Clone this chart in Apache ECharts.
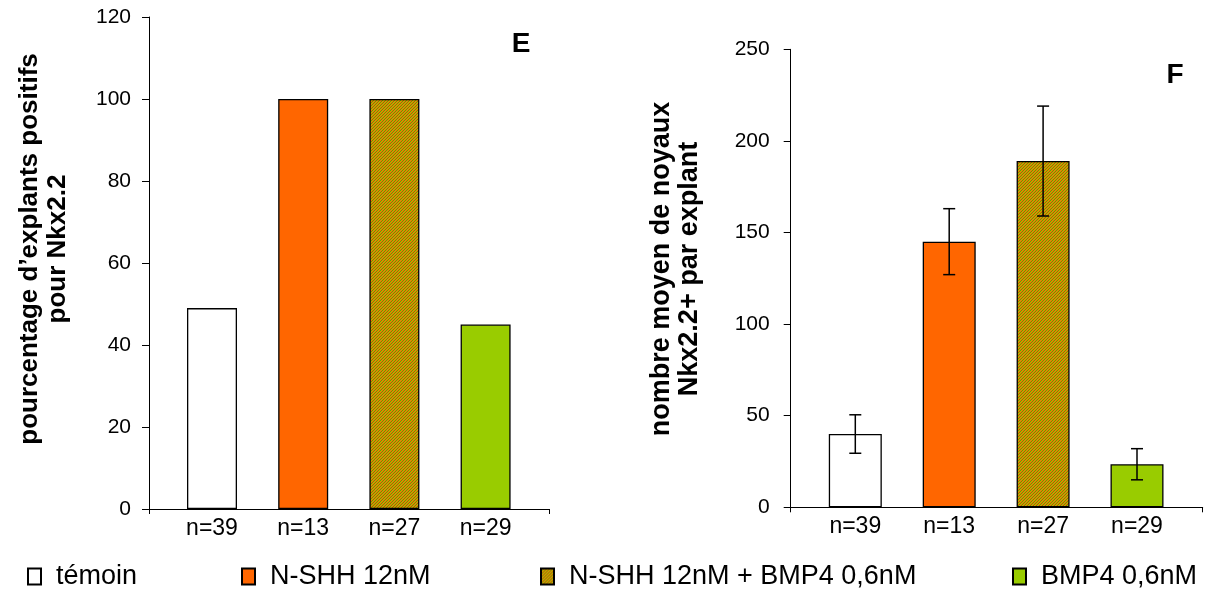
<!DOCTYPE html>
<html>
<head>
<meta charset="utf-8">
<script src="https://cdn.jsdelivr.net/npm/echarts@6/dist/echarts.min.js"></script>
<style>html,body{margin:0;padding:0;background:#fff;}#c{width:1210px;height:592px;}</style>
</head>
<body>
<div id="c"></div>
<script>
// ---- data ----
const categories = ['n=39', 'n=13', 'n=27', 'n=29'];
const seriesNames = ['témoin', 'N-SHH 12nM', 'N-SHH 12nM + BMP4 0,6nM', 'BMP4 0,6nM'];
const pctPositive = [49, 100, 100, 45];
const meanNuclei = [40, 145, 189, 23.5];
const meanNucleiErr = [10.5, 18, 30, 8.5];
const yTicksE = [0, 20, 40, 60, 80, 100, 120];
const yTicksF = [0, 50, 100, 150, 200, 250];
const titleE = 'pourcentage d\u2019explants positifs\npour Nkx2.2';
const titleF = 'nombre moyen de noyaux\nNkx2.2+ par explant';

// ---- styles ----
const FONT = '"Liberation Sans", Arial, sans-serif';
function hatch() {
  const c = document.createElement('canvas');
  c.width = 6; c.height = 6;
  const ctx = c.getContext('2d');
  const cols = ['#99cc00', '#ff6600', '#8a7a00'];
  for (let x = 0; x < 6; x++) for (let y = 0; y < 6; y++) {
    ctx.fillStyle = cols[(x + y) % 3];
    ctx.fillRect(x, y, 1, 1);
  }
  return { image: c, repeat: 'repeat' };
}
const fills = ['#ffffff', '#ff6600', hatch(), '#99cc00'];

const chart = echarts.init(document.getElementById('c'), null, { renderer: 'canvas' });

function frameAxes(gi, min, max, interval, margin) {
  return {
    x: { type: 'value', gridIndex: gi, min: 0, max: 1, interval: 1,
         axisLine: { show: true, lineStyle: { color: '#000', width: 1 } },
         axisTick: { show: true, length: 5, lineStyle: { color: '#000' } },
         axisLabel: { show: false }, splitLine: { show: false } },
    y: { type: 'value', gridIndex: gi, min: min, max: max, interval: interval,
         axisLine: { show: true, lineStyle: { color: '#000', width: 1 } },
         axisTick: { show: true, length: 7, lineStyle: { color: '#000' } },
         axisLabel: { show: true, margin: margin, color: '#000', fontSize: 21, fontFamily: FONT },
         splitLine: { show: false } }
  };
}
function barAxes(gi, min, max) {
  return {
    x: { type: 'category', gridIndex: gi, data: categories,
         axisLine: { show: false }, axisTick: { show: false },
         axisLabel: { color: '#000', fontSize: 23, fontFamily: FONT, margin: 8 } },
    y: { type: 'value', gridIndex: gi, min: min, max: max, show: false, splitLine: { show: false } }
  };
}
const fE = frameAxes(0, yTicksE[0], yTicksE[yTicksE.length - 1], yTicksE[1] - yTicksE[0], 18);
const bE = barAxes(1, yTicksE[0], yTicksE[yTicksE.length - 1]);
const fF = frameAxes(2, yTicksF[0], yTicksF[yTicksF.length - 1], yTicksF[1] - yTicksF[0], 21);
const bF = barAxes(3, yTicksF[0], yTicksF[yTicksF.length - 1]);

const series = [];
function addBars(values, axisIdx, width) {
  seriesNames.forEach((name, i) => {
    series.push({
      type: 'bar', name: name, xAxisIndex: axisIdx, yAxisIndex: axisIdx,
      barWidth: width, barGap: '-100%',
      data: values.map((v, j) => (j === i ? v : '-')),
      itemStyle: { color: fills[i], borderColor: '#000', borderWidth: 1.3 },
      emphasis: { disabled: true }, silent: true, animation: false
    });
  });
}
addBars(pctPositive, 1, 50);
addBars(meanNuclei, 3, 53);
series.push({
  type: 'custom', xAxisIndex: 3, yAxisIndex: 3, animation: false, silent: true, z: 10,
  data: categories.map((c, i) => [i, meanNuclei[i] - meanNucleiErr[i], meanNuclei[i] + meanNucleiErr[i]]),
  encode: { x: 0, y: [1, 2] },
  renderItem: function (params, api) {
    const lo = api.coord([api.value(0), api.value(1)]);
    const hi = api.coord([api.value(0), api.value(2)]);
    const hw = 6;
    const st = { stroke: '#000', lineWidth: 1.5 };
    return { type: 'group', children: [
      { type: 'line', shape: { x1: hi[0], y1: hi[1], x2: lo[0], y2: lo[1] }, style: st },
      { type: 'line', shape: { x1: hi[0] - hw, y1: hi[1], x2: hi[0] + hw, y2: hi[1] }, style: st },
      { type: 'line', shape: { x1: lo[0] - hw, y1: lo[1], x2: lo[0] + hw, y2: lo[1] }, style: st }
    ] };
  }
});

const legendX = [27, 241, 540, 1012];
const option = {
  animation: false,
  backgroundColor: '#fff',
  grid: [
    { left: 149, top: 17, width: 400, height: 492 },
    { left: 166.4, top: 17, width: 364.8, height: 492 },
    { left: 790.7, top: 49.3, width: 412, height: 458 },
    { left: 808.35, top: 49.3, width: 375.6, height: 458 }
  ],
  xAxis: [fE.x, bE.x, fF.x, bF.x],
  yAxis: [fE.y, bE.y, fF.y, bF.y],
  legend: seriesNames.map((n, i) => ({
    data: [{ name: n, icon: 'rect' }], left: legendX[i], top: 563, padding: 0,
    itemWidth: 13, itemHeight: 16, selectedMode: false,
    textStyle: { fontSize: 27, fontFamily: FONT, color: '#000', padding: [0, 0, 0, 10] }
  })),
  graphic: [
    { type: 'text', x: 44, y: 249, rotation: Math.PI / 2,
      style: { text: titleE, font: 'bold 26px ' + FONT, fill: '#000', textAlign: 'center', textVerticalAlign: 'middle', lineHeight: 28 } },
    { type: 'text', x: 676, y: 269, rotation: Math.PI / 2,
      style: { text: titleF, font: 'bold 27px ' + FONT, fill: '#000', textAlign: 'center', textVerticalAlign: 'middle', lineHeight: 28 } },
    { type: 'text', x: 521, y: 44,
      style: { text: 'E', font: 'bold 28px ' + FONT, fill: '#000', textAlign: 'center', textVerticalAlign: 'middle' } },
    { type: 'text', x: 1175, y: 75,
      style: { text: 'F', font: 'bold 28px ' + FONT, fill: '#000', textAlign: 'center', textVerticalAlign: 'middle' } }
  ],
  series: series
};
chart.setOption(option);
</script>
</body>
</html>
